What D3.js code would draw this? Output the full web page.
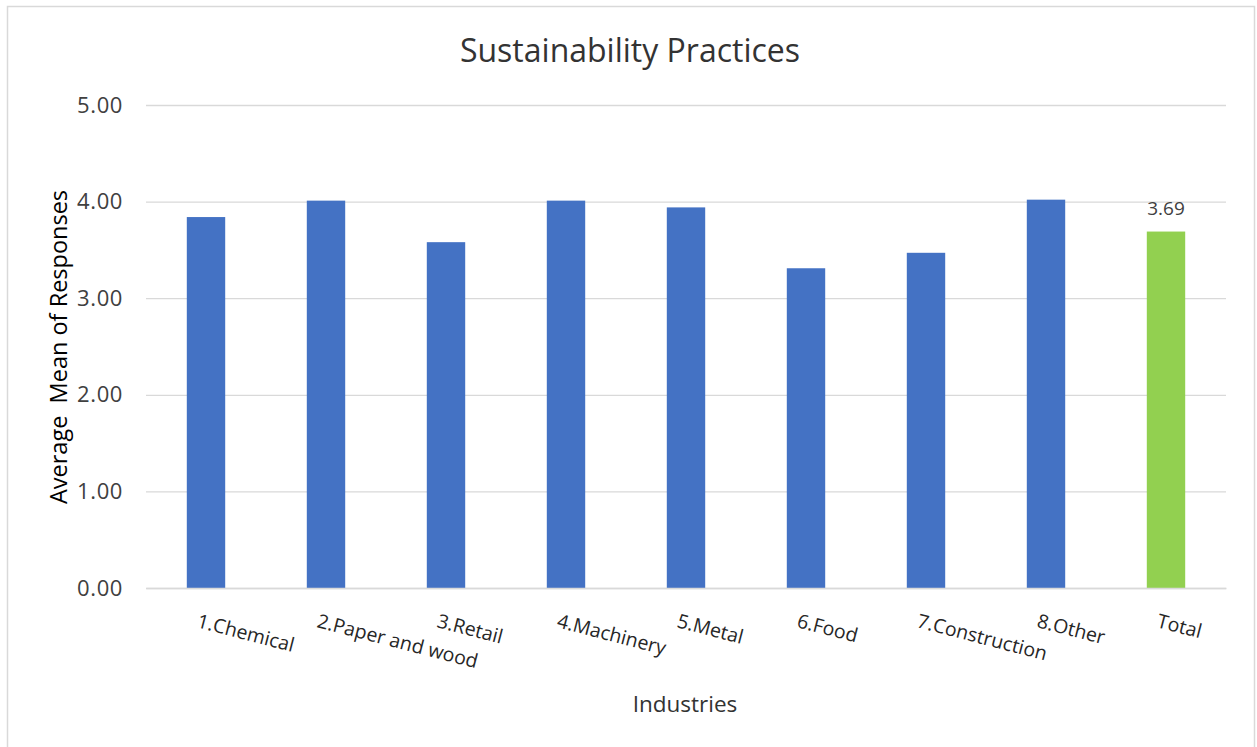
<!DOCTYPE html>
<html>
<head>
<meta charset="utf-8">
<script src="https://cdn.jsdelivr.net/npm/d3@7"></script>
<style>
  html, body { margin: 0; padding: 0; background: #fff; }
  svg { display: block; }
  svg text { font-family: "Open Sans", sans-serif; }
</style>
</head>
<body>
<svg id="chart" width="1257" height="747"></svg>
<script>
// Mean responses on sustainability practices by industry
const industries = ["1.Chemical", "2.Paper and wood", "3.Retail", "4.Machinery", "5.Metal",
                    "6.Food", "7.Construction", "8.Other", "Total"];
const meanScores = [3.84, 4.01, 3.58, 4.01, 3.94, 3.31, 3.47, 4.02, 3.69];
const yTicks = [0, 1, 2, 3, 4, 5];
const labelledBars = ["Total"];

const svg = d3.select("#chart");
const W = 1257, H = 747;
const plot = { left: 146, right: 1226, top: 105, bottom: 588 };

// outer frame
svg.append("rect")
  .attr("x", 7.5).attr("y", 6.5)
  .attr("width", W - 10).attr("height", H)
  .attr("fill", "#fff").attr("stroke", "#D9D9D9").attr("stroke-width", 1.5);

const x = d3.scaleBand()
  .domain(industries)
  .range([plot.left, plot.right])
  .paddingInner(0.68)
  .paddingOuter(0.34);

const y = d3.scaleLinear().domain([0, 5]).range([plot.bottom, plot.top]);

// gridlines and value ticks
const yAxis = d3.axisLeft(y)
  .tickValues(yTicks)
  .tickSize(-(plot.right - plot.left))
  .tickPadding(23)
  .tickFormat(d3.format(".2f"));

const gy = svg.append("g")
  .attr("transform", `translate(${plot.left},0)`)
  .call(yAxis)
  .attr("font-family", null);
gy.select(".domain").remove();
gy.selectAll(".tick line").attr("stroke", "#D9D9D9").attr("stroke-width", 1.3);
gy.selectAll(".tick text")
  .attr("fill", "#404040")
  .style("font-size", "22px")
  .style("letter-spacing", "0.6px");

// bars
svg.append("g").selectAll("rect")
  .data(industries.map((name, i) => ({ name, value: meanScores[i] })))
  .join("rect")
  .attr("x", d => x(d.name))
  .attr("width", x.bandwidth())
  .attr("y", d => y(d.value))
  .attr("height", d => y(0) - y(d.value))
  .attr("fill", d => d.name === "Total" ? "#92D050" : "#4472C4");

// data label
svg.append("g").selectAll("text")
  .data(industries.map((name, i) => ({ name, value: meanScores[i] }))
    .filter(d => labelledBars.includes(d.name)))
  .join("text")
  .attr("x", d => x(d.name) + x.bandwidth() / 2)
  .attr("y", d => y(d.value) - 17)
  .attr("text-anchor", "middle")
  .attr("fill", "#404040")
  .style("font-size", "19px")
  .text(d => d.value.toFixed(2));

// category labels, rotated
const xAxis = d3.axisBottom(x).tickSize(0).tickPadding(0);
const gx = svg.append("g")
  .attr("transform", `translate(0,${plot.bottom})`)
  .call(xAxis)
  .attr("font-family", null);
gx.select(".domain").attr("stroke", "#D9D9D9").attr("stroke-width", 1.3);
gx.selectAll(".tick text")
  .attr("text-anchor", "start")
  .attr("fill", "#262626")
  .style("font-size", "19.5px")
  .attr("transform", "translate(-10,39) rotate(14.5)")
  .attr("y", 0).attr("dy", 0);

// title
svg.append("text")
  .attr("x", 630).attr("y", 62)
  .attr("text-anchor", "middle")
  .attr("fill", "#333")
  .style("font-size", "32px")
  .text("Sustainability Practices");

// axis titles
svg.append("text")
  .attr("transform", `translate(67,347) rotate(-90)`)
  .attr("text-anchor", "middle")
  .attr("fill", "#000")
  .style("font-size", "23.5px")
  .style("white-space", "pre")
  .text("Average  Mean of Responses");

svg.append("text")
  .attr("x", 685).attr("y", 712)
  .attr("text-anchor", "middle")
  .attr("fill", "#333")
  .style("font-size", "22.5px")
  .text("Industries");
</script>
</body>
</html>
